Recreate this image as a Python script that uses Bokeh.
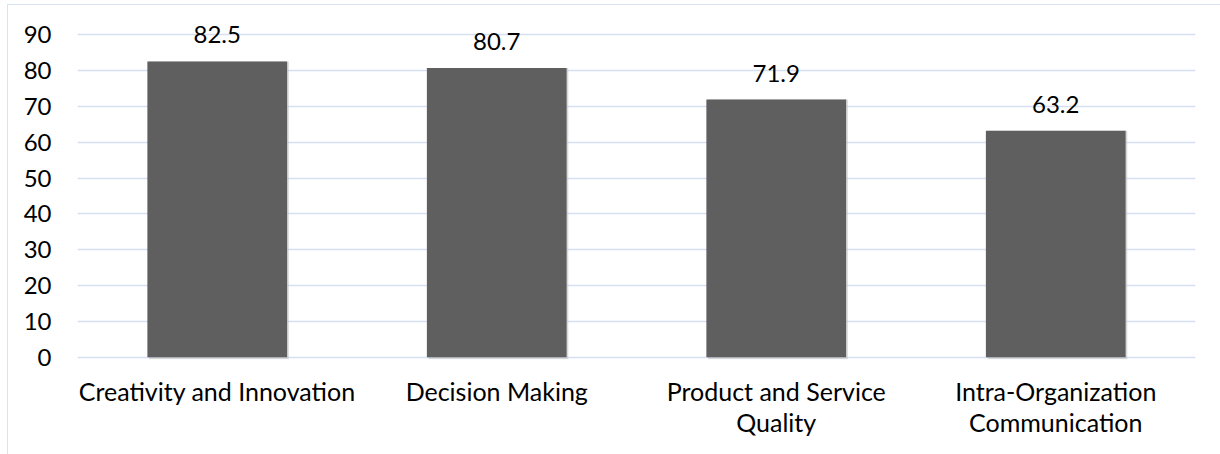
from bokeh.plotting import figure
from bokeh.models import ColumnDataSource, FactorRange, Range1d, FixedTicker, LabelSet
from bokeh.core.properties import value
from bokeh.transform import dodge
from bokeh.embed import file_html
from bokeh.resources import INLINE

categories = ["Creativity and Innovation", "Decision Making",
              "Product and Service\nQuality", "Intra-Organization\nCommunication"]
values = [82.5, 80.7, 71.9, 63.2]
labels = ["82.5", "80.7", "71.9", "63.2"]
y_ticks = [0, 10, 20, 30, 40, 50, 60, 70, 80, 90]

FONT = "Lato"
GRID = "#d5e0f3"

src = ColumnDataSource(dict(cat=categories, val=values, lab=labels))

p = figure(x_range=FactorRange(*categories, range_padding=0), y_range=Range1d(-0.6, 97),
           width=1213, height=450, output_backend="svg", toolbar_location=None,
           min_border_left=69, min_border_right=26, min_border_top=4, min_border_bottom=96)
p.margin = (4, 0, 0, 7)
p.styles = {"border-left": "1px solid #dae3f3", "border-top": "1px solid #dae3f3"}
p.outline_line_color = None
p.background_fill_color = "white"
p.border_fill_color = "white"

# soft shadow
p.vbar(x=dodge("cat", 0.006, range=p.x_range), top="val", bottom=-0.5, width=0.5,
       source=src, fill_color="#bfbfbf", fill_alpha=0.6, line_color=None)
p.vbar(x="cat", top="val", width=0.5, source=src, fill_color="#5f5f5f", line_color=None)

p.add_layout(LabelSet(x="cat", y="val", text="lab", source=src, text_align="center",
                      text_baseline="alphabetic", y_offset=18, text_font=value(FONT),
                      text_font_size="24px", text_color="black"))

p.xgrid.grid_line_color = None
p.ygrid.grid_line_color = GRID
p.ygrid.grid_line_width = 1.5
p.yaxis.ticker = FixedTicker(ticks=y_ticks)
p.yaxis.axis_line_color = None
p.yaxis.major_tick_line_color = None
p.yaxis.minor_tick_line_color = None
p.yaxis.major_label_text_font = FONT
p.yaxis.major_label_text_font_size = "24px"
p.yaxis.major_label_text_color = "black"
p.yaxis.major_label_standoff = 20

p.xaxis.axis_line_color = None
p.xaxis.major_tick_line_color = None
p.xaxis.major_label_text_font = FONT
p.xaxis.major_label_text_font_size = "25px"
p.xaxis.major_label_text_color = "black"
p.xaxis.major_label_text_line_height = 1.05
p.xaxis.major_label_standoff = 10

open("out.html", "w").write(file_html(p, INLINE))
